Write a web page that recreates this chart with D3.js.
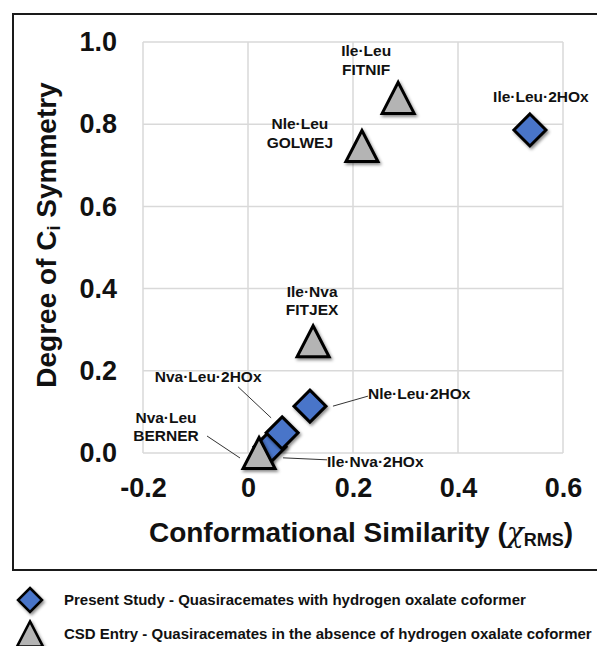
<!DOCTYPE html>
<html>
<head>
<meta charset="utf-8">
<script src="https://cdn.jsdelivr.net/npm/d3@7"></script>
<style>
  body { margin: 0; background: #fff; }
  svg { font-family: "Liberation Sans", Arial, sans-serif; font-weight: bold; }
</style>
</head>
<body>
<div id="chart"></div>
<script>
// data
const names = ["Ile·Leu·2HOx", "Ile·Leu FITNIF", "Nle·Leu GOLWEJ", "Ile·Nva FITJEX",
               "Nle·Leu·2HOx", "Ile·Nva·2HOx", "Nva·Leu·2HOx", "Nva·Leu BERNER"];
const kinds = ["oxalate", "csd", "csd", "csd", "oxalate", "oxalate", "oxalate", "csd"];
const chiRMS = [0.537, 0.286, 0.217, 0.124, 0.118, 0.042, 0.065, 0.021];
const ciSymmetry = [0.786, 0.864, 0.747, 0.272, 0.114, 0.015, 0.049, 0.0];
const labelLines = [["Ile·Leu·2HOx"], ["Ile·Leu", "FITNIF"], ["Nle·Leu", "GOLWEJ"], ["Ile·Nva", "FITJEX"],
                    ["Nle·Leu·2HOx"], ["Ile·Nva·2HOx"], ["Nva·Leu·2HOx"], ["Nva·Leu", "BERNER"]];
const xTicks = [-0.2, 0, 0.2, 0.4, 0.6];
const yTicks = [0, 0.2, 0.4, 0.6, 0.8, 1.0];
const legendText = {
  oxalate: "Present Study - Quasiracemates with hydrogen oxalate coformer",
  csd: "CSD Entry - Quasiracemates in the absence of hydrogen oxalate coformer"
};

// label placement (pixel offsets from the marker), leader lines where used
const labelLayout = [
  { dx: 11, dy: [-28], anchor: "middle" },
  { dx: -32, dy: [-42, -23], anchor: "middle" },
  { dx: -62, dy: [-17, 2], anchor: "middle" },
  { dx: -1, dy: [-44, -26], anchor: "middle" },
  { dx: 58, dy: [-7], anchor: "start", leader: [[23, 0], [58, -10]] },
  { dx: 57, dy: [20], anchor: "start", leader: [[13, 11], [57, 13]] },
  { dx: -74, dy: [-51], anchor: "middle", leader: [[-44, -46], [-11, -15]] },
  { dx: -93, dy: [-30, -12], anchor: "middle", leader: [[-52, -17], [-19, 5]] }
];

const W = 597, H = 646;
const svg = d3.select("#chart").append("svg").attr("width", W).attr("height", H);

const defs = svg.append("defs");
const f = defs.append("filter").attr("id", "shadow")
  .attr("x", "-50%").attr("y", "-50%").attr("width", "200%").attr("height", "200%");
f.append("feDropShadow").attr("dx", 1.5).attr("dy", 2).attr("stdDeviation", 1.5)
  .attr("flood-color", "#000").attr("flood-opacity", 0.45);

// outer frame (runs off the right side in the original)
svg.append("rect").attr("x", 13).attr("y", 14).attr("width", 620).attr("height", 556)
  .attr("fill", "none").attr("stroke", "#1a1a1a").attr("stroke-width", 2);

const x = d3.scaleLinear().domain([-0.2, 0.6]).range([143, 563]);
const y = d3.scaleLinear().domain([0, 1]).range([453, 42]);

// grid
svg.append("g").selectAll("line").data(xTicks).join("line")
  .attr("x1", d => x(d)).attr("x2", d => x(d)).attr("y1", y(1)).attr("y2", y(0))
  .attr("stroke", "#d9d9d9").attr("stroke-width", 1.5);
svg.append("g").selectAll("line").data(yTicks).join("line")
  .attr("x1", x(-0.2)).attr("x2", x(0.6)).attr("y1", d => y(d)).attr("y2", d => y(d))
  .attr("stroke", "#d9d9d9").attr("stroke-width", 1.5);

// axes (tick labels only)
const fmt = d => d3.format(".1f")(d).replace("\u2212", "-");
const xAxis = svg.append("g").attr("transform", `translate(0,${y(0)})`)
  .call(d3.axisBottom(x).tickValues(xTicks).tickSize(0).tickPadding(25)
    .tickFormat(d => d === 0 ? "0" : fmt(d)));
const yAxis = svg.append("g").attr("transform", `translate(${x(-0.2)},0)`)
  .call(d3.axisLeft(y).tickValues(yTicks).tickSize(0).tickPadding(26).tickFormat(fmt));
[xAxis, yAxis].forEach(a => {
  a.select(".domain").remove();
  a.selectAll("text").attr("font-family", "Liberation Sans, Arial, sans-serif")
    .attr("font-weight", "bold").attr("font-size", 27).attr("fill", "#111");
});

// axis titles
const xt = svg.append("text").attr("x", 361).attr("y", 542).attr("text-anchor", "middle")
  .attr("font-size", 28).attr("fill", "#111");
xt.append("tspan").text("Conformational Similarity (");
xt.append("tspan").attr("font-weight", "normal").attr("font-family", "DejaVu Serif").attr("font-style", "italic").text("χ");
xt.append("tspan").attr("font-size", 18).attr("dy", 4).text("RMS");
xt.append("tspan").attr("dy", -4).text(")");

const yt = svg.append("text").attr("transform", "translate(56,235) rotate(-90)")
  .attr("text-anchor", "middle").attr("font-size", 28).attr("fill", "#111");
yt.append("tspan").text("Degree of C");
yt.append("tspan").attr("font-size", 18).attr("dy", 4).text("i");
yt.append("tspan").attr("dy", -4).text(" Symmetry");

// marker shapes
const triangleType = {
  draw(ctx, size) {
    const w = Math.sqrt(size), h = w * 0.97;
    ctx.moveTo(0, -h / 2); ctx.lineTo(w / 2, h / 2); ctx.lineTo(-w / 2, h / 2); ctx.closePath();
  }
};
const diamondType = {
  draw(ctx, size) {
    const r = Math.sqrt(size) / 2;
    ctx.moveTo(0, -r); ctx.lineTo(r, 0); ctx.lineTo(0, r); ctx.lineTo(-r, 0); ctx.closePath();
  }
};
const markStyle = {
  oxalate: { type: diamondType, size: 32 * 32, fill: "#4a74c9" },
  csd: { type: triangleType, size: 32 * 32, fill: "#b4b4b4" }
};

const pts = names.map((n, i) => ({ name: n, kind: kinds[i], x: chiRMS[i], y: ciSymmetry[i], i }));

// leader lines
svg.append("g").selectAll("line").data(pts.filter(d => labelLayout[d.i].leader)).join("line")
  .attr("x1", d => x(d.x) + labelLayout[d.i].leader[0][0])
  .attr("y1", d => y(d.y) + labelLayout[d.i].leader[0][1])
  .attr("x2", d => x(d.x) + labelLayout[d.i].leader[1][0])
  .attr("y2", d => y(d.y) + labelLayout[d.i].leader[1][1])
  .attr("stroke", "#333").attr("stroke-width", 1);

// markers: diamonds first, triangles on top
const order = pts.slice().sort((a, b) => (a.kind === "csd") - (b.kind === "csd"));
svg.append("g").selectAll("path").data(order).join("path")
  .attr("transform", d => `translate(${x(d.x)},${y(d.y)})`)
  .attr("d", d => d3.symbol().type(markStyle[d.kind].type).size(markStyle[d.kind].size)())
  .attr("fill", d => markStyle[d.kind].fill)
  .attr("stroke", "#000").attr("stroke-width", 3).attr("stroke-linejoin", "miter")
  .attr("filter", "url(#shadow)");

// point labels
const lbl = svg.append("g").selectAll("text").data(pts).join("text")
  .attr("text-anchor", d => labelLayout[d.i].anchor)
  .attr("font-size", 15.5).attr("fill", "#111");
lbl.each(function (d) {
  const t = d3.select(this);
  labelLines[d.i].forEach((s, k) => {
    t.append("tspan").attr("x", x(d.x) + labelLayout[d.i].dx)
      .attr("y", y(d.y) + labelLayout[d.i].dy[k]).text(s);
  });
});

// legend
const legend = svg.append("g");
const legendKeys = ["oxalate", "csd"];
legendKeys.forEach((k, i) => {
  const cy = 600 + i * 34;
  legend.append("path").attr("transform", `translate(30,${cy})`)
    .attr("d", d3.symbol().type(markStyle[k].type).size(k === "csd" ? 26 * 26 : 24 * 24)())
    .attr("fill", markStyle[k].fill).attr("stroke", "#000").attr("stroke-width", 2.5)
    .attr("filter", "url(#shadow)");
  legend.append("text").attr("x", 64).attr("y", cy + 5).attr("font-size", 15)
    .attr("fill", "#111").text(legendText[k]);
});
</script>
</body>
</html>
